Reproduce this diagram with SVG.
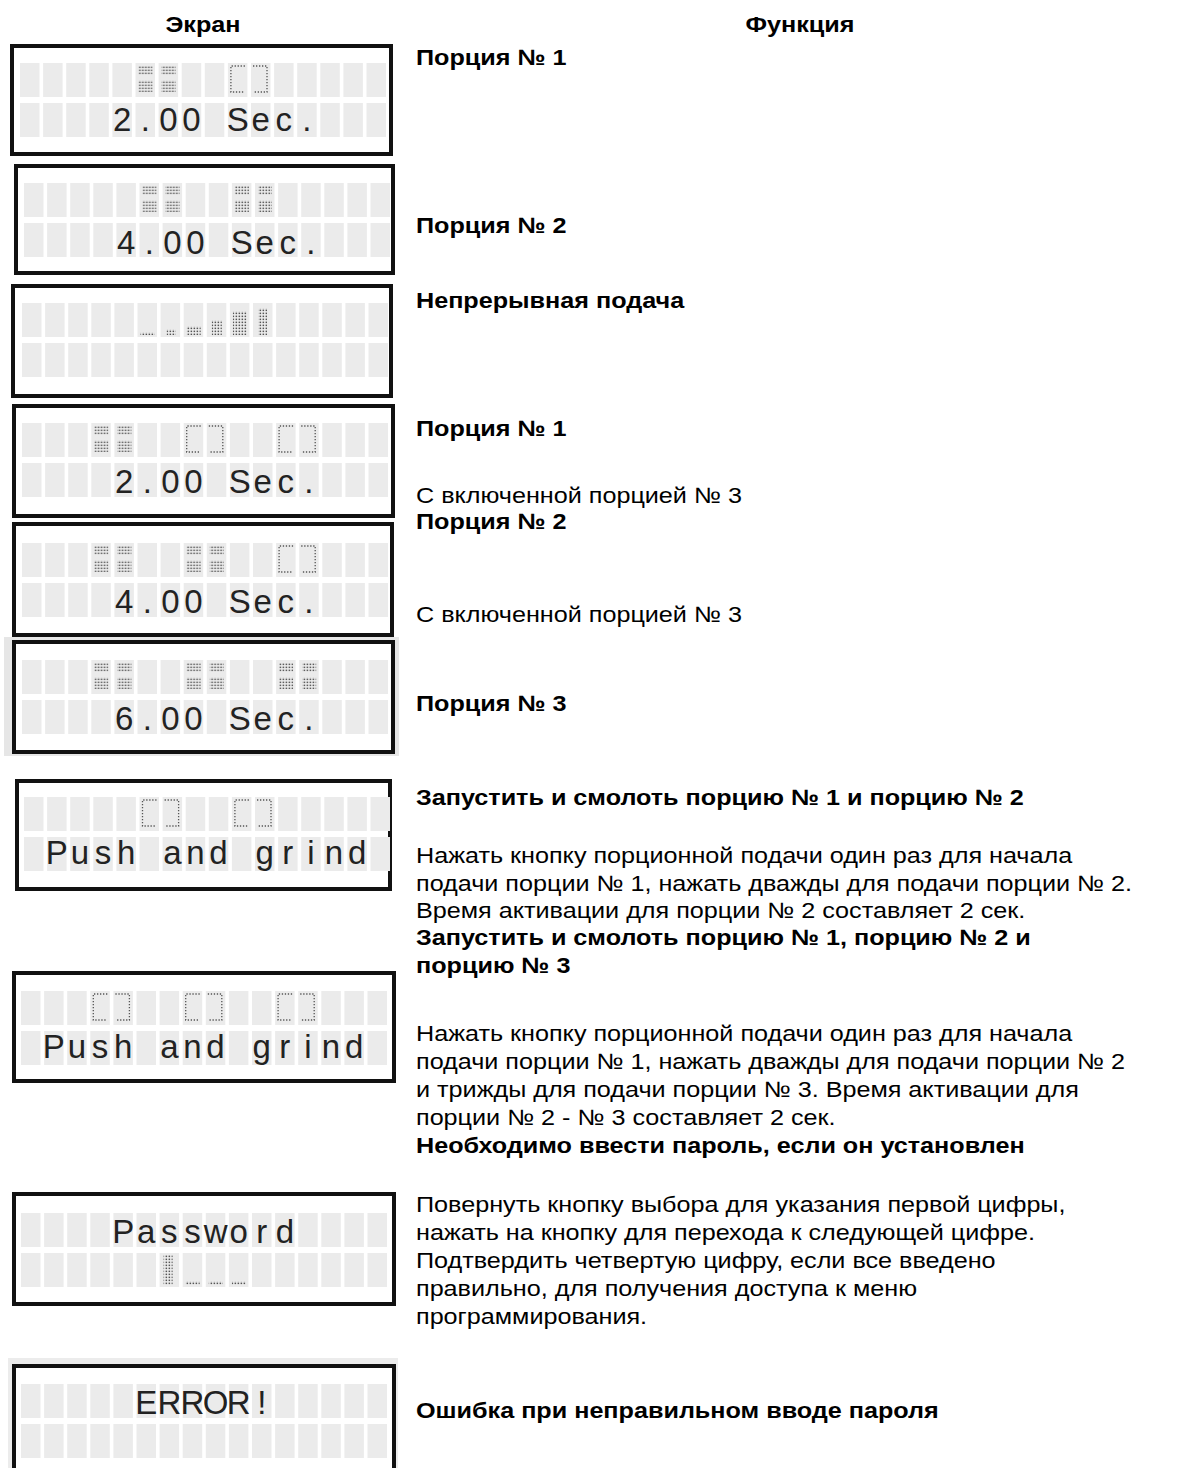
<svg xmlns="http://www.w3.org/2000/svg" xmlns:xlink="http://www.w3.org/1999/xlink" width="1181" height="1468" viewBox="0 0 1181 1468">
<style>
.frame{fill:#fff;stroke:#111;stroke-width:4}
.cell{fill:#ebebeb}
.lcd{font-family:"Liberation Sans",Arial,sans-serif;font-size:33px;fill:#222;text-anchor:middle}
.h{font-family:"Liberation Sans",Arial,sans-serif;font-size:22px;font-weight:bold;fill:#000;text-anchor:middle}
.b{font-family:"Liberation Sans",Arial,sans-serif;font-size:22px;font-weight:bold;fill:#000}
.r{font-family:"Liberation Sans",Arial,sans-serif;font-size:22px;fill:#000}
.dl{fill:none;stroke:#555;stroke-width:1.3;stroke-dasharray:1.3 1.7}
.dots{fill:url(#dot)}
</style>
<defs>
<pattern id="dot" width="3" height="3" patternUnits="userSpaceOnUse"><rect x="0.6" y="0.6" width="1.5" height="1.5" fill="#555"/></pattern>
<g id="cells">
<rect class="cell" x="0" y="0" width="19.5" height="34"/><rect class="cell" x="23.1" y="0" width="19.5" height="34"/><rect class="cell" x="46.2" y="0" width="19.5" height="34"/><rect class="cell" x="69.3" y="0" width="19.5" height="34"/><rect class="cell" x="92.4" y="0" width="19.5" height="34"/><rect class="cell" x="115.5" y="0" width="19.5" height="34"/><rect class="cell" x="138.6" y="0" width="19.5" height="34"/><rect class="cell" x="161.7" y="0" width="19.5" height="34"/><rect class="cell" x="184.8" y="0" width="19.5" height="34"/><rect class="cell" x="207.9" y="0" width="19.5" height="34"/><rect class="cell" x="231" y="0" width="19.5" height="34"/><rect class="cell" x="254.1" y="0" width="19.5" height="34"/><rect class="cell" x="277.2" y="0" width="19.5" height="34"/><rect class="cell" x="300.3" y="0" width="19.5" height="34"/><rect class="cell" x="323.4" y="0" width="19.5" height="34"/><rect class="cell" x="346.5" y="0" width="19.5" height="34"/>
<rect class="cell" x="0" y="40" width="19.5" height="34"/><rect class="cell" x="23.1" y="40" width="19.5" height="34"/><rect class="cell" x="46.2" y="40" width="19.5" height="34"/><rect class="cell" x="69.3" y="40" width="19.5" height="34"/><rect class="cell" x="92.4" y="40" width="19.5" height="34"/><rect class="cell" x="115.5" y="40" width="19.5" height="34"/><rect class="cell" x="138.6" y="40" width="19.5" height="34"/><rect class="cell" x="161.7" y="40" width="19.5" height="34"/><rect class="cell" x="184.8" y="40" width="19.5" height="34"/><rect class="cell" x="207.9" y="40" width="19.5" height="34"/><rect class="cell" x="231" y="40" width="19.5" height="34"/><rect class="cell" x="254.1" y="40" width="19.5" height="34"/><rect class="cell" x="277.2" y="40" width="19.5" height="34"/><rect class="cell" x="300.3" y="40" width="19.5" height="34"/><rect class="cell" x="323.4" y="40" width="19.5" height="34"/><rect class="cell" x="346.5" y="40" width="19.5" height="34"/>
</g>
<g id="fi"><rect class="dots" x="3" y="3" width="14" height="9"/><rect class="dots" x="3" y="17" width="14" height="12"/><rect class="dots" x="26.1" y="3" width="14" height="9"/><rect class="dots" x="26.1" y="17" width="14" height="12"/></g>
<g id="oi"><path class="dl" d="M17 3H3V29H17M25.1 3H39.1V29H25.1"/></g>
</defs>
<rect width="1181" height="1468" fill="#fff"/>

<g id="headers">
<text class="h" transform="translate(203,32) scale(1.145,1)">Экран</text>
<text class="h" transform="translate(800,32) scale(1.145,1)">Функция</text>
</g>

<g id="screen1">
<rect class="frame" x="12" y="46" width="379" height="108"/>
<g transform="translate(20,63)">
<use href="#cells"/><use href="#fi" x="115.5"/><use href="#oi" x="207.9"/>
<text class="lcd" x="102.15 125.25 148.35 171.45 194.55 217.65 240.75 263.85 286.95" y="68">2.00 Sec.</text>
</g>
</g>

<g id="screen2">
<rect class="frame" x="16" y="166" width="377" height="107"/>
<g transform="translate(24,183)">
<use href="#cells"/><use href="#fi" x="115.5"/><use href="#fi" x="207.9"/>
<text class="lcd" x="102.15 125.25 148.35 171.45 194.55 217.65 240.75 263.85 286.95" y="71">4.00 Sec.</text>
</g>
</g>

<g id="screen3">
<rect class="frame" x="13" y="286" width="378" height="110"/>
<g transform="translate(22,303)">
<use href="#cells"/>
<rect class="dots" x="118.5" y="29" width="14" height="3"/>
<rect class="dots" x="144.6" y="26" width="9" height="6"/>
<rect class="dots" x="164.7" y="23" width="14" height="9"/>
<rect class="dots" x="189.8" y="17" width="10" height="15"/>
<rect class="dots" x="210.9" y="8" width="14" height="24"/>
<rect class="dots" x="236" y="5" width="9" height="27"/>
</g>
</g>

<g id="screen4">
<rect class="frame" x="14" y="406" width="379" height="110"/>
<g transform="translate(22,423)">
<use href="#cells"/><use href="#fi" x="69.3"/><use href="#oi" x="161.7"/><use href="#oi" x="254.1"/>
<text class="lcd" x="102.15 125.25 148.35 171.45 194.55 217.65 240.75 263.85 286.95" y="70">2.00 Sec.</text>
</g>
</g>

<g id="screen5">
<rect class="frame" x="14" y="524" width="378" height="111"/>
<g transform="translate(22,543)">
<use href="#cells"/><use href="#fi" x="69.3"/><use href="#fi" x="161.7"/><use href="#oi" x="254.1"/>
<text class="lcd" x="102.15 125.25 148.35 171.45 194.55 217.65 240.75 263.85 286.95" y="70">4.00 Sec.</text>
</g>
</g>

<g id="screen6">
<rect x="4" y="637" width="395" height="119" fill="#e6e6e6"/>
<rect class="frame" x="14" y="642" width="379" height="110"/>
<g transform="translate(22,660)">
<use href="#cells"/><use href="#fi" x="69.3"/><use href="#fi" x="161.7"/><use href="#fi" x="254.1"/>
<text class="lcd" x="102.15 125.25 148.35 171.45 194.55 217.65 240.75 263.85 286.95" y="70">6.00 Sec.</text>
</g>
</g>

<g id="screen7">
<rect class="frame" x="17" y="781" width="373" height="108"/>
<g transform="translate(24,797)">
<use href="#cells"/><use href="#oi" x="115.5"/><use href="#oi" x="207.9"/>
<text class="lcd" x="32.85 55.95 79.05 102.15 125.25 148.35 171.45 194.55 217.65 240.75 263.85 286.95 310.05 333.15" y="67">Push and grind</text>
</g>
</g>

<g id="screen8">
<rect class="frame" x="14" y="973" width="380" height="108"/>
<g transform="translate(21,991)">
<use href="#cells"/><use href="#oi" x="69.3"/><use href="#oi" x="161.7"/><use href="#oi" x="254.1"/>
<text class="lcd" x="32.85 55.95 79.05 102.15 125.25 148.35 171.45 194.55 217.65 240.75 263.85 286.95 310.05 333.15" y="67">Push and grind</text>
</g>
</g>

<g id="screen9">
<rect class="frame" x="14" y="1194" width="380" height="110"/>
<g transform="translate(21,1213)">
<use href="#cells"/>
<text class="lcd" x="102.15 125.25 148.35 171.45 194.55 217.65 240.75 263.85" y="30">Password</text>
<rect class="dots" x="142.6" y="42" width="9" height="30"/>
<rect class="dots" x="164.7" y="68" width="14" height="4"/>
<rect class="dots" x="187.8" y="68" width="14" height="4"/>
<rect class="dots" x="210.9" y="68" width="14" height="4"/>
</g>
</g>

<g id="screen10">
<rect x="8" y="1358" width="390" height="120" fill="#ececec"/>
<rect class="frame" x="14" y="1366" width="380" height="112"/>
<g transform="translate(21,1384)">
<use href="#cells"/>
<text class="lcd" x="125.25 148.35 171.45 194.55 217.65 240.75" y="30">ERROR!</text>
</g>
</g>

<g id="functions" transform="translate(416,0) scale(1.145,1)">
<text class="b" x="0" y="65">Порция № 1</text>
<text class="b" x="0" y="233">Порция № 2</text>
<text class="b" x="0" y="308">Непрерывная подача</text>
<text class="b" x="0" y="436">Порция № 1</text>
<text class="r" x="0" y="503">С включенной порцией № 3</text>
<text class="b" x="0" y="529">Порция № 2</text>
<text class="r" x="0" y="622">С включенной порцией № 3</text>
<text class="b" x="0" y="711">Порция № 3</text>
<text class="b" x="0" y="805">Запустить и смолоть порцию № 1 и порцию № 2</text>
<text class="r" x="0" y="863">Нажать кнопку порционной подачи один раз для начала</text>
<text class="r" x="0" y="891">подачи порции № 1, нажать дважды для подачи порции № 2.</text>
<text class="r" x="0" y="918">Время активации для порции № 2 составляет 2 сек.</text>
<text class="b" x="0" y="945">Запустить и смолоть порцию № 1, порцию № 2 и</text>
<text class="b" x="0" y="973">порцию № 3</text>
<text class="r" x="0" y="1041">Нажать кнопку порционной подачи один раз для начала</text>
<text class="r" x="0" y="1069">подачи порции № 1, нажать дважды для подачи порции № 2</text>
<text class="r" x="0" y="1097">и трижды для подачи порции № 3. Время активации для</text>
<text class="r" x="0" y="1125">порции № 2 - № 3 составляет 2 сек.</text>
<text class="b" x="0" y="1153">Необходимо ввести пароль, если он установлен</text>
<text class="r" x="0" y="1212">Повернуть кнопку выбора для указания первой цифры,</text>
<text class="r" x="0" y="1240">нажать на кнопку для перехода к следующей цифре.</text>
<text class="r" x="0" y="1268">Подтвердить четвертую цифру, если все введено</text>
<text class="r" x="0" y="1296">правильно, для получения доступа к меню</text>
<text class="r" x="0" y="1324">программирования.</text>
<text class="b" x="0" y="1418">Ошибка при неправильном вводе пароля</text>
</g>
</svg>
